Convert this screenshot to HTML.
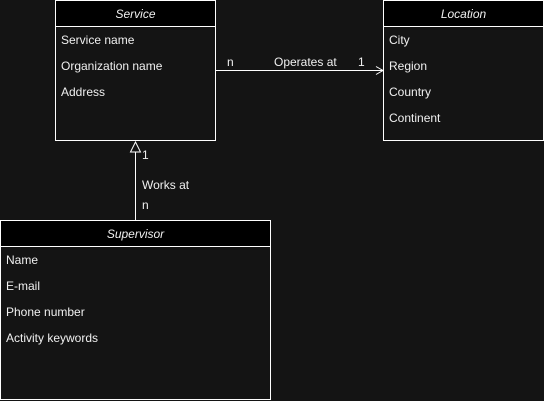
<!DOCTYPE html>
<html><head><style>
html,body{margin:0;padding:0;background:#141414;}
svg{display:block;}
text{font-family:"Liberation Sans",Arial,sans-serif;font-size:12px;fill:#f0f0f0;}
.h{font-style:italic;text-anchor:middle;}
</style></head><body>
<svg width="544" height="401" xmlns="http://www.w3.org/2000/svg">
<rect width="544" height="401" fill="#141414"/>
<g stroke="#fff" stroke-width="1">
<rect x="55.5" y="0.5" width="160" height="140" fill="#141414"/>
<rect x="55.5" y="0.5" width="160" height="26" fill="#000"/>
<rect x="383.5" y="0.5" width="160" height="140" fill="#141414"/>
<rect x="383.5" y="0.5" width="160" height="26" fill="#000"/>
<rect x="0.5" y="220.5" width="270" height="179" fill="#141414"/>
<rect x="0.5" y="220.5" width="270" height="26" fill="#000"/>
<line x1="216" y1="70.5" x2="383" y2="70.5"/>
<polyline points="376,66.5 383,70.5 376,74.5" fill="none"/>
<line x1="135.5" y1="152" x2="135.5" y2="220"/>
<polygon points="135.5,142 130.5,152 140.5,152" fill="none"/>
</g>
<text class="h" x="135.5" y="18">Service</text>
<text x="61" y="44">Service name</text>
<text x="61" y="70">Organization name</text>
<text x="61" y="96">Address</text>
<text class="h" x="463.5" y="18">Location</text>
<text x="389" y="44">City</text>
<text x="389" y="70">Region</text>
<text x="389" y="96">Country</text>
<text x="389" y="122">Continent</text>
<text class="h" x="135.5" y="238">Supervisor</text>
<text x="6" y="264">Name</text>
<text x="6" y="290">E-mail</text>
<text x="6" y="316">Phone number</text>
<text x="6" y="342">Activity keywords</text>
<text x="227" y="66">n</text>
<text x="274" y="66">Operates at</text>
<text x="358" y="66">1</text>
<text x="142" y="159">1</text>
<text x="142" y="189">Works at</text>
<text x="142" y="209">n</text>
</svg>
</body></html>
